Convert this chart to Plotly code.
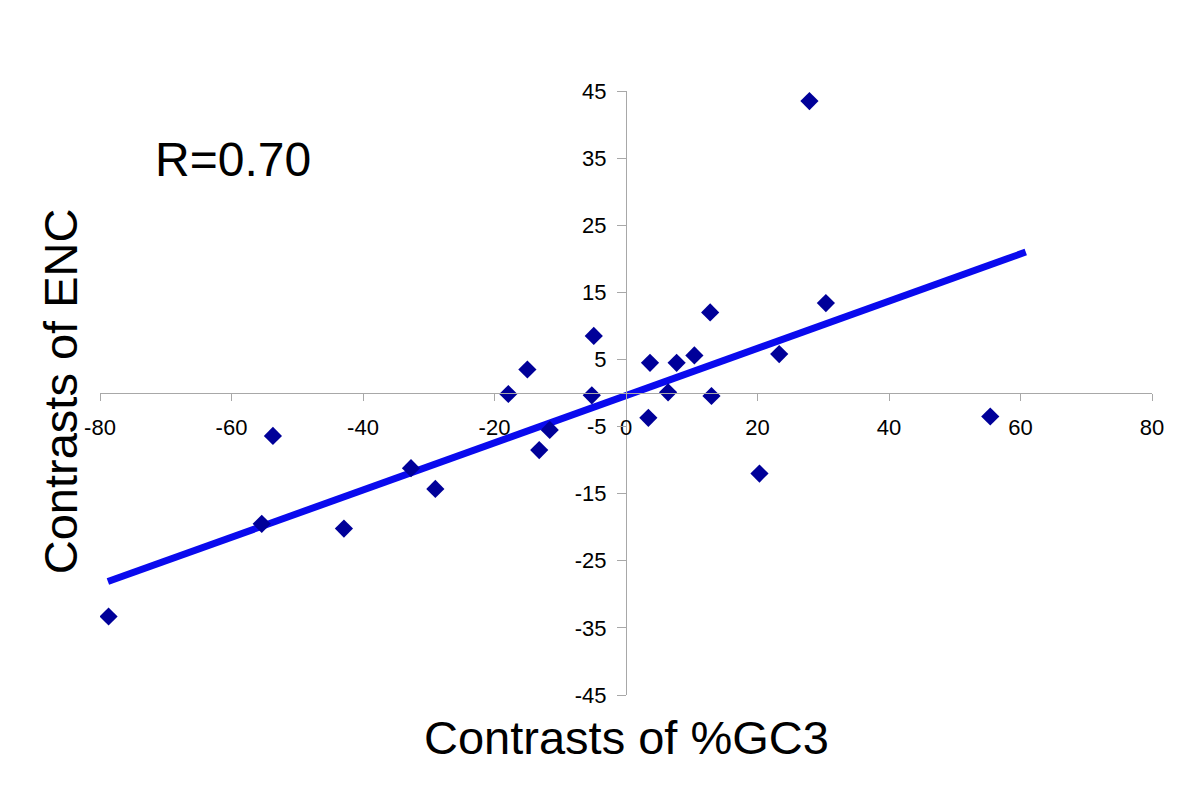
import plotly.graph_objects as go

# Data
gc3_contrast = [-78.7, -55.4, -53.7, -42.9, -32.7, -29.0, -17.9, -15.0, -13.2, -11.6,
                -5.2, -4.9, 3.4, 3.65, 6.4, 7.7, 10.4, 12.8, 13.0, 20.3,
                23.3, 27.9, 30.4, 55.4]
enc_contrast = [-33.3, -19.5, -6.4, -20.2, -11.2, -14.3, -0.15, 3.5, -8.5, -5.5,
                -0.35, 8.5, -3.7, 4.5, 0.1, 4.5, 5.6, 12.0, -0.45, -12.0,
                5.8, 43.5, 13.4, -3.5]

trend_x = [-78.8, 60.8]
trend_y = [-28.1, 21.0]

x_ticks = [-80, -60, -40, -20, 0, 20, 40, 60, 80]
y_ticks = [-45, -35, -25, -15, -5, 5, 15, 25, 35, 45]

FONT = "Liberation Sans, Arial, sans-serif"

fig = go.Figure()
fig.add_trace(go.Scatter(
    x=trend_x, y=trend_y, mode="lines",
    line=dict(color="#0A0AEE", width=7),
    showlegend=False, hoverinfo="skip"))
fig.add_trace(go.Scatter(
    x=gc3_contrast, y=enc_contrast, mode="markers",
    marker=dict(symbol="diamond", size=14, color="#000099",
                line=dict(width=0)),
    showlegend=False))

# The page body has an 8px margin, so the figure is offset by (8, 8).
fig.update_layout(
    width=1184, height=791,
    margin=dict(l=92, r=40, t=83, b=104, autoexpand=False),
    paper_bgcolor="white", plot_bgcolor="white",
    font=dict(family=FONT, color="black"),
    xaxis=dict(
        range=[-80, 80], anchor="free", position=0.5, automargin=False,
        showgrid=False, zeroline=False,
        showline=True, linecolor="#A8A8A8", linewidth=1.3,
        ticks="outside", ticklen=7, tickcolor="#A8A8A8", tickwidth=1.3,
        tickvals=x_ticks, ticktext=[str(v) for v in x_ticks],
        tickfont=dict(size=22, family=FONT, color="black"),
        ticklabelstandoff=7,
    ),
    yaxis=dict(
        range=[-45, 45], anchor="free", position=0.5, automargin=False,
        showgrid=False, zeroline=False,
        showline=True, linecolor="#A8A8A8", linewidth=1.3,
        ticks="outside", ticklen=9, tickcolor="#A8A8A8", tickwidth=1.3,
        tickvals=y_ticks, ticktext=[str(v) for v in y_ticks],
        tickfont=dict(size=22, family=FONT, color="black"),
        ticklabelstandoff=6,
    ),
    annotations=[
        dict(text="R=0.70", xref="paper", yref="paper", x=0.126, y=0.886,
             showarrow=False, font=dict(size=48, family=FONT, color="black"),
             xanchor="center", yanchor="middle"),
        dict(text="Contrasts of %GC3", xref="paper", yref="paper", x=0.5, y=-0.07,
             showarrow=False, font=dict(size=47, family=FONT, color="black"),
             xanchor="center", yanchor="middle"),
        dict(text="Contrasts of ENC", xref="paper", yref="paper", x=-0.038, y=0.503,
             showarrow=False, textangle=-90,
             font=dict(size=47, family=FONT, color="black"),
             xanchor="center", yanchor="middle"),
    ],
)

fig.write_html("out.html")
